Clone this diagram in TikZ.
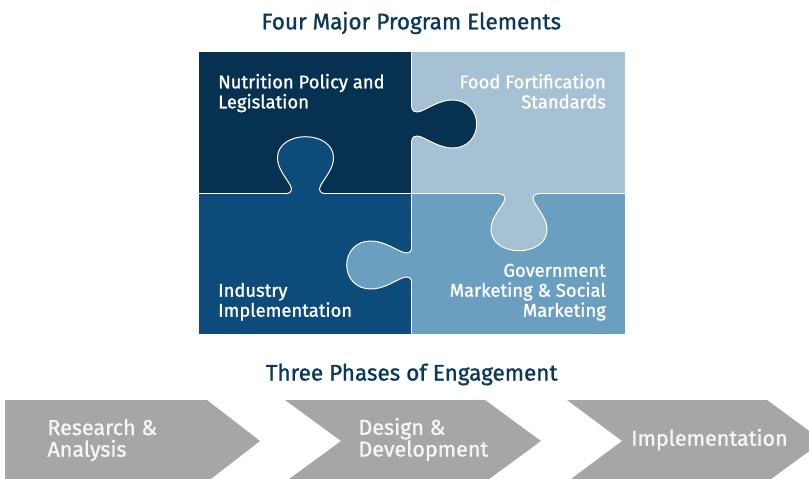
\documentclass[tikz,border=0pt]{standalone}
\usepackage{fontspec}
\setmainfont{Fira Sans}[FakeBold=1.2]
\definecolor{tlc}{RGB}{6,49,80}
\definecolor{trc}{RGB}{165,193,211}
\definecolor{blc}{RGB}{12,75,122}
\definecolor{brc}{RGB}{107,159,192}
\definecolor{titlecol}{RGB}{12,57,88}
\definecolor{chevcol}{RGB}{166,166,166}
\definecolor{chevtext}{RGB}{246,246,246}
\tikzset{
  knobcurve/.style={insert path={(-20,0) .. controls (-15,0) and (-12.5,3.5) .. (-15,8)
     .. controls (-20,17) and (-28,25) .. (-28,36)
     .. controls (-28,49) and (-15,57) .. (0,57)
     .. controls (15,57) and (28,49) .. (28,36)
     .. controls (28,25) and (20,17) .. (15,8)
     .. controls (12.5,3.5) and (15,0) .. (20,0)}},
  knobfill/.style={insert path={(-20,-3) -- (-20,0) .. controls (-15,0) and (-12.5,3.5) .. (-15,8)
     .. controls (-20,17) and (-28,25) .. (-28,36)
     .. controls (-28,49) and (-15,57) .. (0,57)
     .. controls (15,57) and (28,49) .. (28,36)
     .. controls (28,25) and (20,17) .. (15,8)
     .. controls (12.5,3.5) and (15,0) .. (20,0) -- (20,-3) -- cycle}},
  outline/.style={draw=white, line width=1pt, line cap=round, line join=round},
  heading/.style={text=titlecol, font=\fontsize{22.5}{24}\selectfont, inner sep=0pt},
  ptext/.style={text=white, font=\fontsize{18.4}{20}\selectfont, inner sep=0pt},
  ctext/.style={text=chevtext, font=\fontsize{21.5}{21.7}\selectfont, inner sep=0pt, align=left},
  chevron/.style={fill=chevcol},
}
\begin{document}
\begin{tikzpicture}[x=1pt,y=1pt]
\useasboundingbox (0,0) rectangle (809,-479);
\clip (0,0) rectangle (809,-479);

% titles
\node[heading, anchor=base] (t1) at (411.3,-29.3) {Four Major Program Elements};
\node[heading, anchor=base] (t2) at (411.7,-380.5) {Three Phases of Engagement};

% puzzle base rectangles
\fill[tlc] (199,-52) rectangle (411.7,-193.7);
\fill[trc] (411.7,-52) rectangle (625,-193.7);
\fill[blc] (199,-193.7) rectangle (411.7,-334);
\fill[brc] (411.7,-193.7) rectangle (625,-334);

% knobs
\begin{scope}[shift={(305.5,-193.7)}]
  \path[fill=blc, knobfill];
  \path[outline, knobcurve];
  \coordinate (k1a) at (-20,0); \coordinate (k1b) at (20,0);
\end{scope}
\begin{scope}[shift={(411.7,-124)}, rotate=-90, xscale=0.857, yscale=1.14]
  \path[fill=tlc, knobfill];
  \path[outline, knobcurve];
  \coordinate (k2a) at (-20,0); \coordinate (k2b) at (20,0);
\end{scope}
\begin{scope}[shift={(519,-193.7)}, rotate=180]
  \path[fill=trc, knobfill];
  \path[outline, knobcurve];
  \coordinate (k3a) at (-20,0); \coordinate (k3b) at (20,0);
\end{scope}
\begin{scope}[shift={(411.7,-265)}, rotate=90, xscale=0.857, yscale=1.14]
  \path[fill=brc, knobfill];
  \path[outline, knobcurve];
  \coordinate (k4a) at (-20,0); \coordinate (k4b) at (20,0);
\end{scope}

% dividers
\coordinate (h0) at (199,-193.7);
\coordinate (h1) at (625,-193.7);
\coordinate (v0) at (411.7,-52);
\coordinate (v1) at (411.7,-334);
\path[outline] (h0) -- (k1a) (k1b) -- (k3b) (k3a) -- (h1);
\path[outline] (v0) -- (k2a) (k2b) -- (k4b) (k4a) -- (v1);

% puzzle labels (anchor = baseline of last line)
\node[ptext, anchor=base west, align=left] (nut) at (218,-108.3) {Nutrition Policy and\\Legislation};
\node[ptext, anchor=base east, align=right] (food) at (606,-108.3) {Food Fortification\\Standards};
\node[ptext, anchor=base west, align=left] (ind) at (218,-316.7) {Industry\\Implementation};
\node[ptext, anchor=base east, align=right] (gov) at (606,-316.7) {Government\\Marketing \& Social\\Marketing};

% chevrons
\path[chevron] (5,-400) -- (207,-400) -- (260,-441) -- (207,-482) -- (5,-482) -- cycle;
\path[chevron] (285,-400) -- (485,-400) -- (541,-441) -- (485,-482) -- (285,-482) -- (341,-441) -- cycle;
\path[chevron] (567,-400) -- (767,-400) -- (823,-441) -- (767,-482) -- (567,-482) -- (622,-441) -- cycle;

\node[ctext, anchor=base west] (c1) at (47.3,-456.7) {Research \&\\Analysis};
\node[ctext, anchor=base west] (c2) at (358.3,-456.5) {Design \&\\Development};
\node[ctext, anchor=base west] (c3) at (631,-445.7) {Implementation};
\end{tikzpicture}
\end{document}
